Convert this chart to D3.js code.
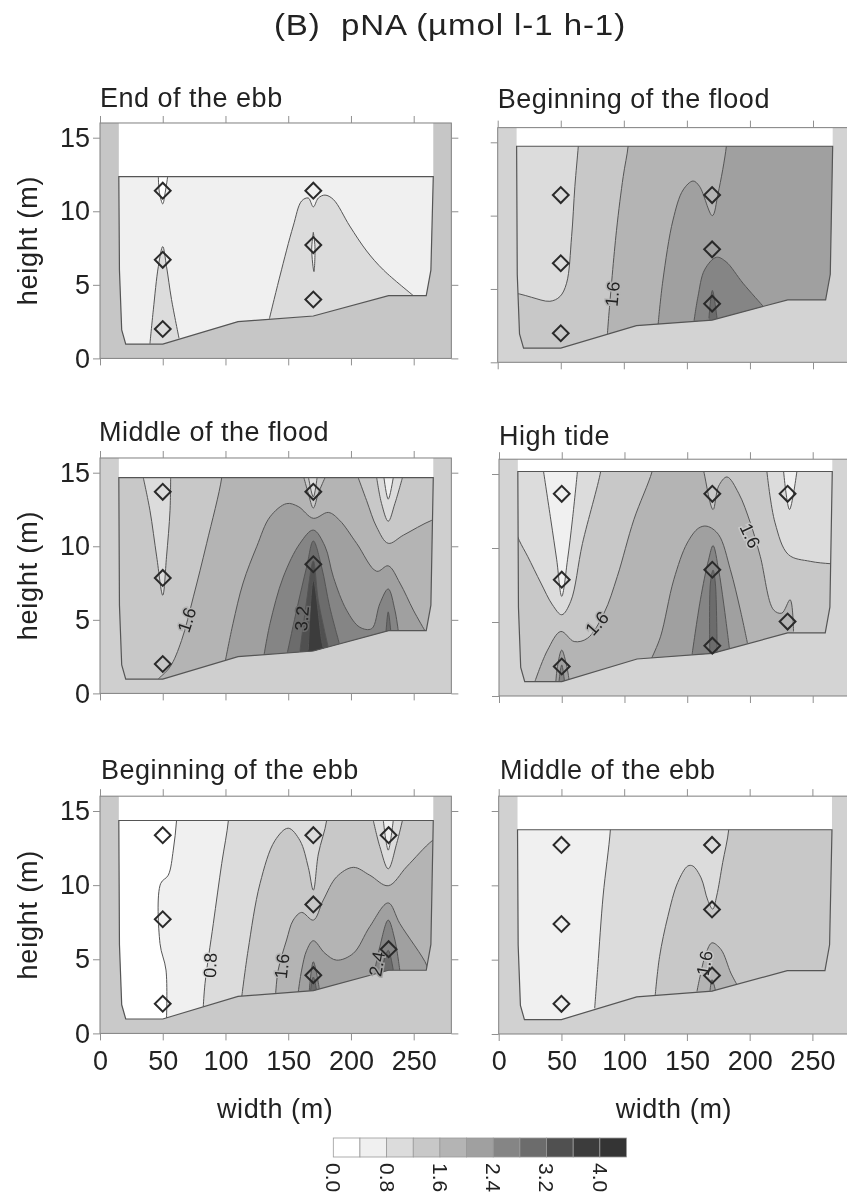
<!DOCTYPE html>
<html><head><meta charset="utf-8">
<script src="https://cdnjs.cloudflare.com/ajax/libs/d3/7.8.5/d3.min.js"></script>
<style>
html,body{margin:0;padding:0;background:#fff;overflow:hidden}
svg{display:block;font-family:"Liberation Sans",Arial,sans-serif;filter:blur(0.45px)}
</style></head><body>
<svg id="c" width="847" height="1198"></svg>
<script>
// ---------- data (metres along section, metres height, µmol l-1 h-1 bins) ----------
const panelTitles = ["End of the ebb","Beginning of the flood","Middle of the flood","High tide","Beginning of the ebb","Middle of the ebb"];
const waterLevels = [12.36,14.73,14.66,15.17,14.36,13.74];
const baseLevels  = [0.4,0.8,1.2,1.2,0.0,0.4];
const bedProfile  = [[15.5,6],[17.3,1.93],[20.5,0.97],[50,0.97],[110,2.5],[170,2.88],[230,4.26],[260,4.26],[263.7,6]];
const xTicks = [0,50,100,150,200,250];
const yTicks = [0,5,10,15];
const legendBins = [0,0.4,0.8,1.2,1.6,2.0,2.4,2.8,3.2,3.6,4.0];
const legendTicks = [0,0.8,1.6,2.4,3.2,4.0];

const stationsA = [[50,11.4],[50,6.7],[50,2],[170,11.4],[170,7.7],[170,4]];
const stationsB = [[50,11.4],[50,6.75],[50,1.98],[170,11.4],[170,7.7],[170,4]];
const stationsC = [[50,13.7],[50,7.85],[50,2],[170,13.7],[170,8.78]];
const stationsD = [[50,13.66],[50,7.86],[50,1.99],[170,13.66],[170,8.53],[170,3.4],[230,13.66],[230,5.03]];
const stationsE = [[50,13.37],[50,7.7],[50,2],[170,13.37],[170,8.7],[170,3.93],[230,13.37],[230,5.68]];
const stationsF = [[50,12.72],[50,7.4],[50,2.03],[170,12.72],[170,8.38],[170,3.94]];

const contoursA = [
 {level:0.8,edge:[[39.8,1],[42.5,3.3],[46.5,6.25],[50,7.6],[53,6.25],[57,4],[63,1.36]],close:[[63,-1],[39.8,-1]]},
 {level:0.8,edge:[[135,2.7],[143.4,5.6],[154,9],[160.7,10.7],[166,10.9],[170,10.3],[174,10.9],[179.3,11.1],[186,10.8],[199,9],[212.5,7.3],[226,6],[249.7,4.27]],close:[[249.7,-1],[135,-1]]},
 {level:0.4,edge:[[170,8.57],[171.3,7.6],[170.5,5.9],[168.7,7.4],[170,8.57]],close:[]},
 {level:0.0,edge:[[46.5,12.4],[47.3,11.3],[50,10.5],[52,11.3],[54,12.4]],close:[[54,17],[46.5,17]]}
];
const contoursB = [
 {level:1.2,edge:[[10,4.7],[17.2,4.66],[26.9,4.43],[41.4,4.16],[49.3,4.48],[54.6,5.39],[58.6,8.57],[61.2,12],[63.9,14.73],[65,16]],close:[[280,17],[280,-1],[10,-1]]},
 {level:1.6,edge:[[87,1.93],[88.1,3.2],[94.2,9],[99.5,12.66],[103.4,14.73],[104,16]],close:[[280,17],[280,-1],[87,-1]]},
 {level:2.0,edge:[[127.2,2.59],[131,5.6],[139,9.7],[147,11.75],[154.9,12.36],[160,12],[170.2,10],[174.7,11.5],[181.3,14.73],[182,16]],close:[[280,17],[280,-1],[127.2,-1]]},
 {level:2.4,edge:[[155.7,2.84],[158.8,4.48],[164,6.3],[173.4,7.16],[181,6.86],[194.5,5.39],[210.3,3.84]],close:[[210.3,-1],[155.7,-1]]},
 {level:2.8,edge:[[167.5,3],[170.2,4.9],[173.9,3]],close:[[173.9,-1],[167.5,-1]]}
];
const contoursC = [
 {level:1.6,edge:[[46.5,1],[55.8,1.8],[65,3.6],[74.4,6.56],[85,10.2],[97,14.66],[98,16]],close:[[280,17],[280,-1],[46.5,-1]]},
 {level:1.2,edge:[[162.5,14.66],[166,13.6],[170,12.6],[174,13.6],[179.3,14.66]],close:[[179.3,17],[162.5,17]]},
 {level:1.2,edge:[[205.8,14.66],[212.5,13.1],[220.5,11.3],[229.7,10.2],[241.7,10.75],[264.3,11.76],[275,12]],close:[[275,17],[205.8,17]]},
 {level:0.8,edge:[[220.5,14.66],[224.4,12.9],[229.7,11.7],[235,12.9],[241,14.66]],close:[[241,17],[220.5,17]]},
 {level:0.4,edge:[[226.3,14.66],[229.7,13.2],[233.7,14.66]],close:[[233.7,17],[226.3,17]]},
 {level:0.8,edge:[[166.2,14.66],[170,13.35],[173,14.66]],close:[[173,17],[166.2,17]]},
 {level:0.8,edge:[[34.5,14.66],[39.8,12.44],[45.2,9.28],[50,6.67],[53,9.28],[55.8,12.44],[56.3,14.66]],close:[[56.3,17],[34.5,17]]},
 {level:2.0,edge:[[100,2.26],[106,4.75],[114,7.5],[125,10],[135.5,12],[148.7,12.9],[158,12.7],[170,11.9],[182,12.3],[191,11.76],[204.5,10.2],[220.5,8.3],[229.7,8.67],[239,7.5],[249.7,5.66],[259,4.25]],close:[[259,-1],[100,-1]]},
 {level:2.4,edge:[[130.7,2.6],[135.5,4.75],[146,7.9],[159.4,10.2],[170,11.1],[179.3,10],[186,7.9],[196.5,5.66],[207,4.5],[216.5,4.4],[223,6.1],[229.7,7.1],[235,5.66],[237.7,4.25]],close:[[237.7,-1],[130.7,-1]]},
 {level:2.8,edge:[[149.3,2.76],[156.7,5.66],[164.7,8.6],[170,10.36],[176.6,8.6],[183,5.9],[190.7,3.4]],close:[[190.7,-1],[149.3,-1]]},
 {level:2.8,edge:[[228,4.25],[229.7,5.54],[231.7,4.25]],close:[[231.7,-1],[228,-1]]},
 {level:3.2,edge:[[159.4,2.9],[164.7,6.3],[170,9],[174,6.3],[182,3.1]],close:[[182,-1],[159.4,-1]]},
 {level:3.6,edge:[[166,2.94],[170,7.7],[176.6,3.6],[178,3.05]],close:[[178,-1],[166,-1]]}
];
const contoursD = [
 {level:0.8,edge:[[10,11.8],[16.2,10.5],[22.8,9.44],[33.4,7.63],[42.6,6.16],[50,5.49],[57.2,6.4],[66.5,10.3],[81,15.17],[82,16]],close:[[85,17],[5,17]]},
 {level:0.4,edge:[[35.5,15.17],[41.3,11.9],[46,9.2],[50,6.73],[54.6,9.2],[58.5,11.9],[62.5,15.17]],close:[[62.5,17],[35.5,17]]},
 {level:1.6,edge:[[28.6,0.97],[38.7,3.1],[49.3,4.36],[59.9,3.68],[70.5,3.9],[83.7,5.6],[94.3,8.08],[107.5,11.92],[122,15.17],[125,16.5],[160,16.5],[163.2,15.17],[170.6,12.6],[175,14.18],[181.7,14.8],[191,13.7],[200.3,11.7],[208.2,9.44],[218.8,5.82],[225.4,5.6],[232,6.5],[234.7,4.36]],close:[[234.7,-1],[28.6,-1]]},
 {level:0.8,edge:[[213.5,15.17],[220,11.7],[230.7,9.55],[248,9.1],[263.8,8.94],[275,8.9]],close:[[275,17],[213.5,17]]},
 {level:0.4,edge:[[226.8,15.17],[231.5,12.6],[237.4,15.17]],close:[[237.4,17],[226.8,17]]},
 {level:2.0,edge:[[121.6,2.55],[128.7,4],[139.3,7.86],[150,10.34],[159.2,11.35],[165.8,11.47],[175,10.9],[184.4,8.53],[192.3,5.82],[198,3.57]],close:[[198,-1],[121.6,-1]]},
 {level:2.4,edge:[[153.9,2.82],[160.5,6.5],[167,9.2],[170.6,10.16],[175,8.53],[179,6.28],[183.6,3.23]],close:[[183.6,-1],[153.9,-1]]},
 {level:2.8,edge:[[168,2.9],[168.5,7.63],[170.6,8.5],[172.4,7.63],[173.8,3]],close:[[173.8,-1],[168,-1]]},
 {level:2.0,edge:[[45.3,0.97],[46.6,2],[50,3.1],[54,2],[55.9,1.04]],close:[[55.9,-1],[45.3,-1]]},
 {level:2.4,edge:[[47.8,0.97],[50,2.1],[52.2,0.97]],close:[[52.2,-1],[47.8,-1]]}
];
const contoursE = [
 {level:0.4,edge:[[53,1],[52.6,4.27],[47.8,6.07],[48.3,10.1],[54.4,10.67],[58.4,12.36],[61,14.36],[62,16]],close:[[280,17],[280,-1],[53,-1]]},
 {level:0.8,edge:[[82.3,1.8],[83.7,3.37],[90.3,7.4],[97,11.46],[102.3,14.36],[103,16]],close:[[280,17],[280,-1],[82.3,-1]]},
 {level:1.2,edge:[[113,2.5],[118,5.6],[127.5,10.1],[139.4,13],[150,13.84],[159.4,13],[166,11.2],[170,9.66],[174,12.1],[180.6,14.36],[181,16]],close:[[280,17],[280,-1],[113,-1]]},
 {level:0.8,edge:[[217.8,14.36],[223,12.6],[229.7,11.1],[236.4,12.8],[241,14.36]],close:[[241,17],[217.8,17]]},
 {level:0.4,edge:[[225.8,14.36],[229.7,12.36],[233.7,14.36]],close:[[233.7,17],[225.8,17]]},
 {level:1.6,edge:[[140,2.7],[142,4.27],[148.7,6.3],[154,7.64],[160.7,8.16],[170,7.64],[178,9],[188.6,10.56],[201.9,11.2],[215,10.67],[229.7,9.96],[244.4,11.24],[264.8,13],[275,13.5]],close:[[280,-1],[140,-1]]},
 {level:2.0,edge:[[158,2.8],[160.7,4.27],[164.7,5.6],[170,6.25],[179.3,5.4],[188.6,4.94],[201.9,5.4],[215,7.2],[229.7,8.8],[239,7.4],[260.3,4.6],[260.8,4.2]],close:[[260.8,-1],[158,-1]]},
 {level:2.4,edge:[[166.8,2.9],[170,4.83],[174.8,3]],close:[[174.8,-1],[166.8,-1]]},
 {level:2.4,edge:[[219,4.27],[223,5.84],[229.7,7.64],[235,6.3],[239,4.2]],close:[[239,-1],[219,-1]]},
 {level:2.8,edge:[[224.4,4.27],[229.7,5.6],[233.7,4.27]],close:[[233.7,-1],[224.4,-1]]},
 {level:2.8,edge:[[167.8,2.9],[170,3.8],[172.5,2.95]],close:[[172.5,-1],[167.8,-1]]}
];
const contoursF = [
 {level:0.8,edge:[[76.5,1.73],[79,4.55],[83.2,9.28],[89,13.74],[90,16]],close:[[280,17],[280,-1],[76.5,-1]]},
 {level:1.2,edge:[[124.7,2.57],[128.2,5.2],[134.8,7.9],[142.7,10.2],[150.7,11.3],[154.7,11.3],[161.3,10.5],[166.6,9],[170.6,8.4],[173.7,9.28],[178.5,11.53],[183.3,13.74],[184,16]],close:[[280,17],[280,-1],[124.7,-1]]},
 {level:1.6,edge:[[158,2.86],[159.9,3.65],[165.3,5.45],[170,6.13],[177.2,5.68],[185,4.1],[190,3.3]],close:[[190,-1],[158,-1]]},
 {level:2.0,edge:[[168.4,2.9],[170,3.65],[172.7,2.95]],close:[[172.7,-1],[168.4,-1]]}
];
const labelsA = [];
const labelsB = [[90.8,4.66,"1.6",1.6]];
const labelsC = [[69,5.0,"1.6",1.6],[160.7,5.1,"3.2",2.8]];
const labelsD = [[77.9,4.92,"1.6",1.6],[200.3,10.84,"1.6",1.2]];
const labelsE = [[87.6,4.6,"0.8",0.8],[144.8,4.54,"1.6",1.6],[220.5,4.7,"2.4",2.0]];
const labelsF = [[163.9,4.77,"1.6",1.2]];

// ---------- layout and styling ----------
const contourSets = [contoursA,contoursB,contoursC,contoursD,contoursE,contoursF];
const stationSets = [stationsA,stationsB,stationsC,stationsD,stationsE,stationsF];
const labelSets   = [labelsA,labelsB,labelsC,labelsD,labelsE,labelsF];
const labelAngles = [[],[-85],[-72,-85],[-48,65],[-88,-84,-80],[-80]];
const frames = [
 {left:100,  kx:1.2548, y0:358.4, y15:137.7, tx:100,  ty:107, land:"#c6c6c6"},
 {left:497.7,kx:1.2612, y0:362.3, y15:142.3, tx:497.7,ty:108, land:"#d3d3d3"},
 {left:100,  kx:1.2548, y0:693.4, y15:472.7, tx:99,   ty:441, land:"#cfcfcf"},
 {left:499,  kx:1.2548, y0:696,   y15:474,   tx:499,  ty:445, land:"#d4d4d4"},
 {left:100,  kx:1.2548, y0:1033.4,y15:811,   tx:101,  ty:779, land:"#c9c9c9"},
 {left:498.7,kx:1.2548, y0:1034,  y15:811,   tx:500,  ty:779, land:"#d1d1d1"}
];
const binColor = d3.scaleThreshold()
  .domain([0.4,0.8,1.2,1.6,2.0,2.4,2.8,3.2,3.6,4.0])
  .range(["#ffffff","#f0f0f0","#dcdcdc","#c8c8c8","#b4b4b4","#a0a0a0","#858585","#6c6c6c","#505050","#3c3c3c","#343434"]);

const svg = d3.select("#c");
svg.append("text").attr("transform","translate(450,35) scale(1.14,1)").attr("text-anchor","middle")
  .attr("font-size",29).attr("letter-spacing",0.8).attr("fill","#222").attr("xml:space","preserve").text("(B)  pNA (µmol l-1 h-1)");

const defs = svg.append("defs");
frames.forEach((f,i)=>{
  const k=(f.y0-f.y15)/15;
  const x=d3.scaleLinear().domain([0,280]).range([f.left,f.left+280*f.kx]);
  const y=d3.scaleLinear().domain([0,16]).range([f.y0,f.y0-16*k]);
  const g=svg.append("g");
  const wl=waterLevels[i];
  const section=[[15,wl],...bedProfile,[265.6,wl]];
  const line=d3.line().x(d=>x(d[0])).y(d=>y(d[1]));
  const smooth=d3.line().x(d=>x(d[0])).y(d=>y(d[1])).curve(d3.curveCatmullRom.alpha(0.5));

  // land and air
  g.append("rect").attr("x",x(0)).attr("y",y(16)).attr("width",x(280)-x(0)).attr("height",y(0)-y(16)).attr("fill",f.land);
  g.append("rect").attr("x",x(15)).attr("y",y(16)).attr("width",x(265.6)-x(15)).attr("height",y(wl)-y(16)).attr("fill","#fff");

  const cid="clip"+i;
  defs.append("clipPath").attr("id",cid).append("path").attr("d",line(section)+"Z");
  const body=g.append("g").attr("clip-path",`url(#${cid})`);
  body.append("path").attr("d",line(section)+"Z").attr("fill",binColor(baseLevels[i]));
  contourSets[i].forEach(c=>{
    const e=smooth(c.edge);
    body.append("path").attr("d",e+(c.close.length?"L"+c.close.map(p=>x(p[0])+","+y(p[1])).join("L"):"")+"Z").attr("fill",binColor(c.level));
    body.append("path").attr("d",e).attr("fill","none").attr("stroke","#555").attr("stroke-width",1);
  });
  g.append("path").attr("d",line(section)+"Z").attr("fill","none").attr("stroke","#555").attr("stroke-width",1.2);

  // contour labels
  labelSets[i].forEach((l,j)=>{
    g.append("text").attr("transform",`translate(${x(l[0])},${y(l[1])}) rotate(${labelAngles[i][j]})`)
     .attr("text-anchor","middle").attr("dy","0.36em").attr("font-size",18).attr("fill","#222")
     .attr("stroke",binColor(l[3])).attr("stroke-width",3).attr("paint-order","stroke").text(l[2]);
  });

  // stations
  const sym=d3.symbol(d3.symbolSquare,125);
  g.selectAll("path.st").data(stationSets[i]).enter().append("path").attr("class","st")
   .attr("d",sym).attr("transform",d=>`translate(${x(d[0])},${y(d[1])}) rotate(45)`)
   .attr("fill","none").attr("stroke","#2a2a2a").attr("stroke-width",2);

  // frame and axes
  g.append("rect").attr("x",x(0)).attr("y",y(16)).attr("width",x(280)-x(0)).attr("height",y(0)-y(16))
   .attr("fill","none").attr("stroke","#808080").attr("stroke-width",1);
  const isLeft=i%2===0, isBottom=i>=4;
  const style=a=>{a.select(".domain").remove();a.selectAll("line").attr("stroke","#909090");
    a.selectAll("text").attr("font-size",27).attr("font-family","Liberation Sans").attr("fill","#222");};
  g.append("g").attr("transform",`translate(0,${y(0)})`)
   .call(d3.axisBottom(x).tickValues(xTicks).tickSize(7).tickPadding(10).tickFormat(d=>isBottom?d:"")).call(style);
  g.append("g").attr("transform",`translate(0,${y(16)})`)
   .call(d3.axisTop(x).tickValues(xTicks).tickSize(7).tickFormat("")).call(style);
  g.append("g").attr("transform",`translate(${x(0)},0)`)
   .call(d3.axisLeft(y).tickValues(yTicks).tickSize(7).tickPadding(3).tickFormat(d=>isLeft?d:"")).call(style);
  g.append("g").attr("transform",`translate(${x(280)},0)`)
   .call(d3.axisRight(y).tickValues(yTicks).tickSize(7).tickFormat("")).call(style);

  // titles
  g.append("text").attr("x",f.tx).attr("y",f.ty).attr("font-size",27).attr("letter-spacing",0.5).attr("fill","#222").text(panelTitles[i]);
  if(isLeft) g.append("text").attr("transform",`translate(37,${(f.y0+f.y15)/2-7.5}) rotate(-90)`)
     .attr("text-anchor","middle").attr("font-size",27).attr("letter-spacing",0.8).attr("fill","#222").text("height (m)");
  if(isBottom) g.append("text").attr("x",x(140)-0.5).attr("y",1117.5).attr("text-anchor","middle")
     .attr("font-size",27).attr("letter-spacing",0.6).attr("fill","#222").text("width (m)");
});

// legend
const lx=d3.scaleLinear().domain([0,4.4]).range([333.3,626.5]);
const lg=svg.append("g");
lg.selectAll("rect").data(legendBins).enter().append("rect")
  .attr("x",d=>lx(d)).attr("y",1138).attr("width",lx(0.4)-lx(0)).attr("height",19)
  .attr("fill",d=>binColor(d)).attr("stroke","#9a9a9a").attr("stroke-width",0.8);
const lax=lg.append("g").attr("transform","translate(0,1160)")
  .call(d3.axisBottom(lx).tickValues(legendTicks).tickSize(0).tickPadding(0).tickFormat(d3.format(".1f")));
lax.select(".domain").remove();
lax.selectAll("text").attr("transform","rotate(90)").attr("text-anchor","start").attr("x",3).attr("y",0).attr("dy","0.36em")
   .attr("font-size",21).attr("font-family","Liberation Sans").attr("fill","#222");
</script>
</body></html>
